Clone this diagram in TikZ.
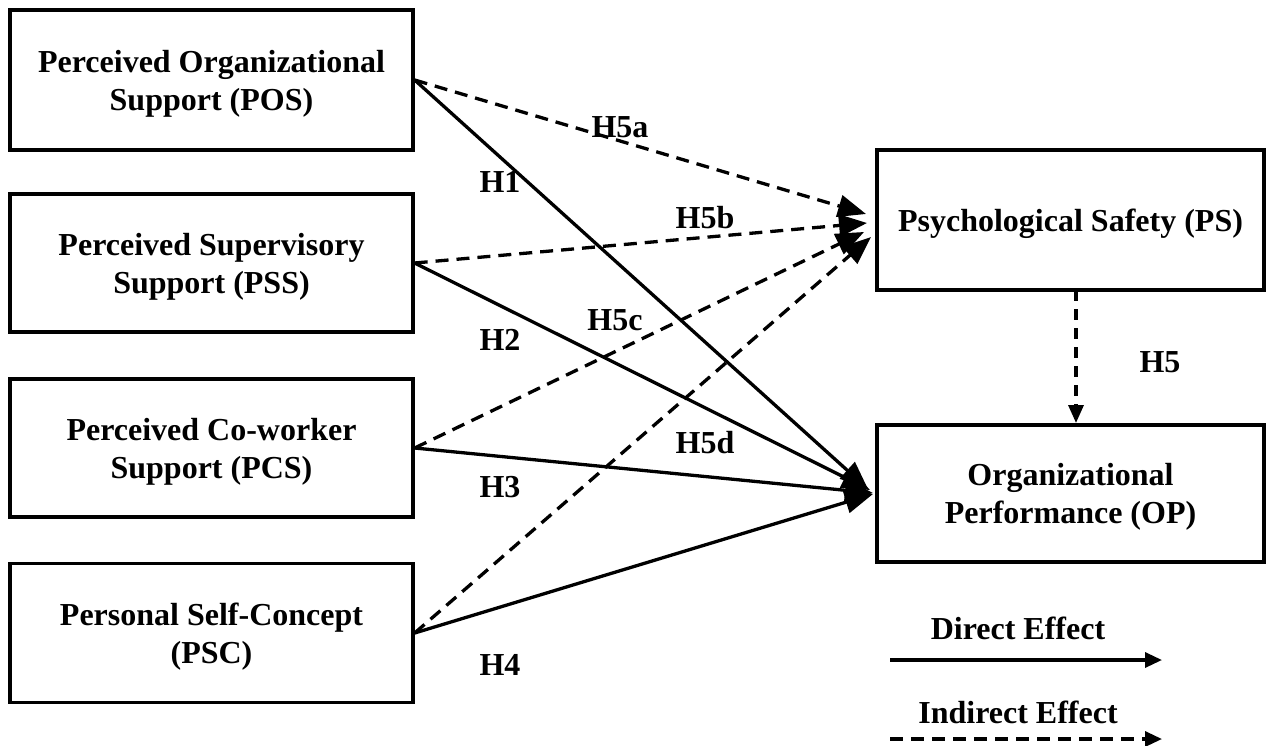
\documentclass[tikz,border=0pt]{standalone}
\usepackage{fontspec}
\setmainfont{Liberation Serif}
\usetikzlibrary{arrows.meta,calc}
\begin{document}
\begin{tikzpicture}[x=1pt,y=-1pt,
  box/.style={draw,line width=3.3pt,minimum width=403pt,align=center,text depth=0pt,font=\fontsize{32}{38}\selectfont\bfseries},
  rbox/.style={box,minimum width=387pt},
  lab/.style={font=\fontsize{32}{38}\selectfont\bfseries},
  dir/.style={line width=3.3pt,-{Triangle[length=28pt,width=22pt]}},
  ind/.style={dir,dash pattern=on 13pt off 8pt},
  ldir/.style={line width=3.3pt,-{Triangle[length=17pt,width=15pt]}},
  lind/.style={ldir,dash pattern=on 13pt off 8pt}]
\useasboundingbox (0,0) rectangle (1274,745);
\node[box,minimum height=140pt] (pos) at (211.5,80) {Perceived Organizational\\Support (POS)};
\node[box,minimum height=138pt] (pss) at (211.5,263) {Perceived Supervisory\\Support (PSS)};
\node[box,minimum height=138pt] (pcs) at (211.5,448) {Perceived Co-worker\\Support (PCS)};
\node[box,minimum height=139pt] (psc) at (211.5,633) {Personal Self-Concept\\(PSC)};
\node[rbox,minimum height=140pt] (ps) at (1070.5,220) {Psychological Safety (PS)};
\node[rbox,minimum height=137pt] (op) at (1070.5,493.5) {Organizational\\Performance (OP)};
\coordinate (ta) at (866,214);
\coordinate (tb) at (867,223);
\coordinate (tc) at (864,232);
\coordinate (td) at (871,237);
\coordinate (t1) at (868,489);
\coordinate (t2) at (870,490);
\coordinate (t3) at (873,493);
\coordinate (t4) at (873,494);
\coordinate (hs) at (1076,290);
\coordinate (ht) at (1076,423);
\draw[ind] (pos.east) -- (ta);
\draw[ind] (pss.east) -- (tb);
\draw[ind] (pcs.east) -- (tc);
\draw[ind] (psc.east) -- (td);
\draw[dir] (pos.east) -- (t1);
\draw[dir] (pss.east) -- (t2);
\draw[dir] (pcs.east) -- (t3);
\draw[dir] (psc.east) -- (t4);
\draw[ind,dash pattern=on 11pt off 8pt,-{Triangle[length=18pt,width=15pt]}] (hs) -- (ht);
\node[lab] (l5a) at (620,127) {H5a};
\node[lab] (l1) at (500,182) {H1};
\node[lab] (l5b) at (705,218) {H5b};
\node[lab] (l2) at (500,340) {H2};
\node[lab] (l5c) at (615,320) {H5c};
\node[lab] (l5d) at (705,443) {H5d};
\node[lab] (l3) at (500,487) {H3};
\node[lab] (l4) at (500,665) {H4};
\node[lab] (l5) at (1160,362) {H5};
\node[lab] (ld) at (1018,628) {Direct Effect};
\node[lab] (li) at (1018,712) {Indirect Effect};
\coordinate (da) at (890,660);
\coordinate (db) at (1162,660);
\coordinate (ia) at (890,739);
\coordinate (ib) at (1162,739);
\draw[ldir] (da) -- (db);
\draw[lind] (ia) -- (ib);
\end{tikzpicture}
\end{document}
